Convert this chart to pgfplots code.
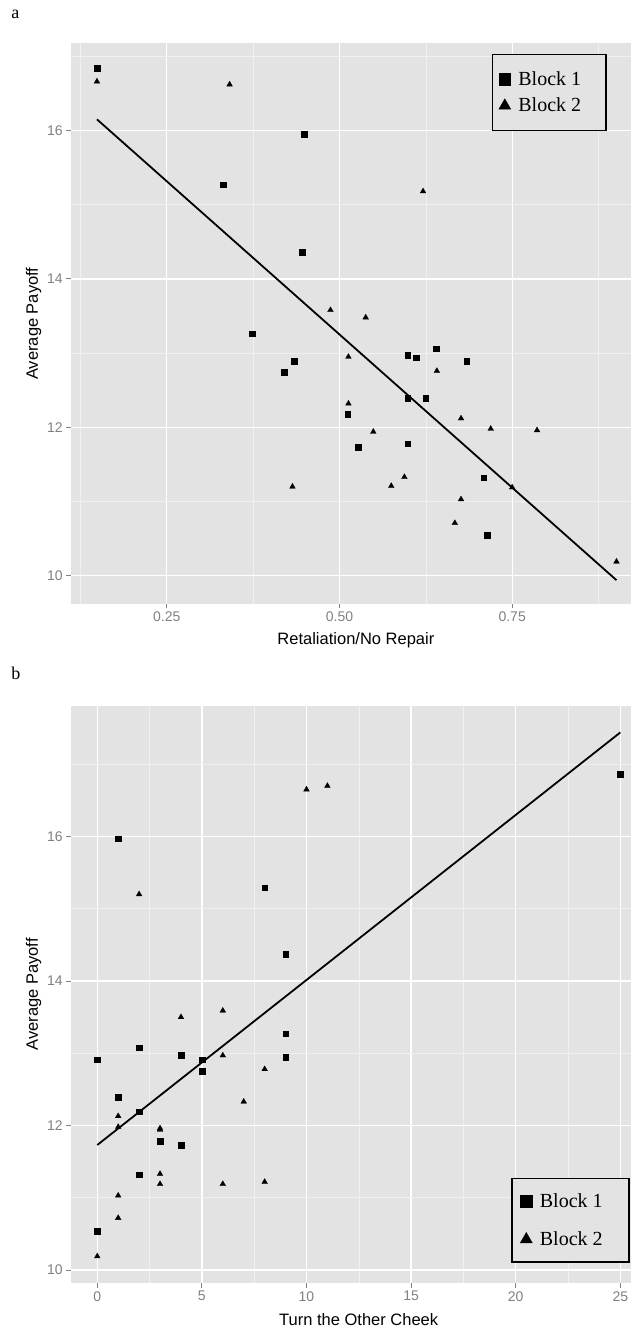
\documentclass[border=0pt]{standalone}
\usepackage{fontspec}
\setmainfont{Liberation Sans}
\newfontfamily\seriffont{Liberation Serif}
\usepackage{pgfplots}
\pgfplotsset{compat=1.18}

\definecolor{panelbg}{HTML}{E3E3E3}
\definecolor{minorgrid}{HTML}{F0F0F0}
\definecolor{ticklab}{HTML}{808080}

\pgfplotsset{
  ggpanel/.style={
    scale only axis,
    width=560.3pt,
    axis background/.style={fill=panelbg},
    axis line style={draw=none},
    grid=both,
    major grid style={white, line width=1.3pt},
    minor grid style={minorgrid, line width=0.6pt},
    tick pos=left,
    tick align=outside,
    major tick length=4.5pt,
    minor tick length=0pt,
    tick style={ticklab, line width=0.9pt},
    ticklabel style={font=\fontsize{14}{16}\selectfont, text=ticklab},
    /pgf/number format/assume math mode=true,
    ylabel style={at={(rel axis cs:-0.066,0.5)}, rotate=0, anchor=center,
      font=\fontsize{16.5}{19}\selectfont},
    xlabel style={anchor=center, font=\fontsize{16.5}{19}\selectfont},
    legend style={draw=black, line width=1.5pt, fill=panelbg,
      font=\seriffont\fontsize{20}{22}\selectfont,
      nodes={inner sep=1.5pt}, cells={anchor=west},
      /tikz/every odd column/.append style={column sep=6pt}},
  },
  blk1/.style={only marks, mark=square*, mark size=2.8pt, black,
    mark options={line width=0.3pt},
    legend image post style={mark size=5.8pt, line width=0.3pt}},
  blk2/.style={only marks, mark=triangle*, mark size=3.3pt, black,
    mark options={line width=0.3pt},
    legend image post style={mark size=7pt, line width=0.3pt}},
  fitline/.style={black, line width=1.8pt, no marks},
}

\begin{document}
\begin{tikzpicture}[x=1pt, y=1pt]
\path[use as bounding box] (0,0) rectangle (631,1328);

% panel a
\begin{axis}[ggpanel,
  at={(70.7pt,724pt)}, anchor=south west,
  height=560.7pt,
  xmin=0.111, xmax=0.922, ymin=9.619, ymax=17.175,
  xtick={0.25,0.5,0.75}, xticklabels={0.25,0.50,0.75},
  minor xtick={0.125,0.375,0.625,0.875},
  ytick={10,12,14,16}, minor ytick={11,13,15,17},
  xlabel={Retaliation/No Repair}, ylabel={Average Payoff},
  xlabel style={at={(rel axis cs:0.509,-0.0642)}},
  legend style={at={(rel axis cs:0.957,0.981)}, anchor=north east,
    inner xsep=6.5pt, inner ysep=15.5pt, row sep=8pt},
]
\addplot[blk1] coordinates {
  (0.149,16.84) (0.449,15.95) (0.332,15.27) (0.446,14.36) (0.374,13.26)
  (0.434,12.89) (0.420,12.74) (0.599,12.97) (0.611,12.94) (0.640,13.06)
  (0.684,12.89) (0.512,12.18) (0.599,12.39) (0.625,12.39) (0.527,11.73)
  (0.599,11.78) (0.709,11.32) (0.714,10.55)
};
\addlegendentry{Block 1\hspace*{17pt}}
\addplot[blk2] coordinates {
  (0.149,16.66) (0.341,16.62) (0.621,15.18) (0.487,13.58) (0.538,13.48)
  (0.513,12.95) (0.641,12.76) (0.513,12.32) (0.676,12.12) (0.719,11.98)
  (0.786,11.96) (0.549,11.94) (0.432,11.20) (0.594,11.33) (0.575,11.21)
  (0.750,11.19) (0.676,11.03) (0.667,10.71) (0.901,10.19)
};
\addlegendentry{Block 2\hspace*{17pt}}
\addplot[fitline, forget plot] coordinates {(0.149,16.15) (0.901,9.94)};
\end{axis}

% panel b
\begin{axis}[ggpanel,
  at={(70.7pt,44.7pt)}, anchor=south west,
  height=577.6pt,
  xmin=-1.27, xmax=25.51, ymin=9.816, ymax=17.81,
  xtick={0,5,10,15,20,25},
  minor xtick={2.5,7.5,12.5,17.5,22.5},
  ytick={10,12,14,16}, minor ytick={11,13,15,17},
  xlabel={Turn the Other Cheek}, ylabel={Average Payoff},
  xlabel style={at={(rel axis cs:0.514,-0.0623)}},
  legend style={at={(rel axis cs:0.998,0.183)}, anchor=north east,
    inner xsep=8pt, inner ysep=13.5pt, row sep=20pt},
]
\addplot[blk1] coordinates {
  (1,15.97) (8,15.29) (9,14.37) (25,16.86) (9,13.27) (2,13.08) (0,12.91)
  (4,12.97) (5,12.91) (9,12.95) (5,12.75) (1,12.40) (1,12.39) (2,12.19)
  (3,11.78) (4,11.73) (2,11.32) (0,10.54)
};
\addlegendentry{Block 1\hspace*{17pt}}
\addplot[blk2] coordinates {
  (2,15.20) (10,16.65) (11,16.70) (4,13.50) (6,13.59) (6,12.97) (8,12.78)
  (7,12.33) (1,12.13) (1,11.98) (3,11.96) (3,11.94) (3,11.33) (3,11.19)
  (6,11.19) (8,11.22) (1,11.03) (1,10.72) (0,10.19)
};
\addlegendentry{Block 2\hspace*{17pt}}
\addplot[fitline, forget plot] coordinates {(0,11.73) (25,17.44)};
\end{axis}

\node[font=\seriffont\fontsize{18}{20}\selectfont, anchor=center] at (15.3,1314) {a};
\node[font=\seriffont\fontsize{18}{20}\selectfont, anchor=center] at (16,654.7) {b};
\end{tikzpicture}
\end{document}
